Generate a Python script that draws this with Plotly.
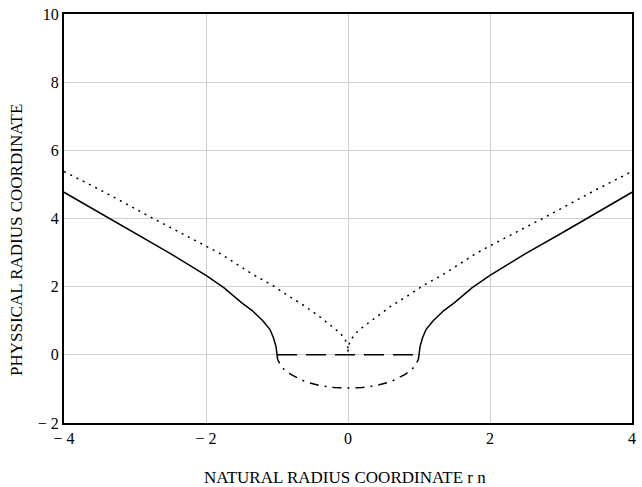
import plotly.graph_objects as go

# ---- data ----
solid_left_r = [-4.0, -3.5, -3.0, -2.5, -2.0, -1.75, -1.5, -1.35, -1.2, -1.1, -1.05, -1.015, -1.005, -1.0]
solid_left_y = [4.77, 4.17, 3.56, 2.97, 2.33, 1.97, 1.53, 1.30, 1.00, 0.75, 0.50, 0.25, 0.10, 0.0]
solid_right_r = [1.0, 1.005, 1.015, 1.05, 1.1, 1.2, 1.35, 1.5, 1.75, 2.0, 2.5, 3.0, 3.5, 4.0]
solid_right_y = [0.0, 0.10, 0.25, 0.50, 0.75, 1.00, 1.30, 1.53, 1.97, 2.33, 2.97, 3.56, 4.17, 4.77]

dot_left_r = [-4.0, -3.5, -2.76, -2.0, -1.8, -1.34, -1.05, -0.87, -0.6, -0.4, -0.2, -0.1, -0.03, 0.0]
dot_left_y = [5.38, 4.85, 4.02, 3.20, 2.97, 2.36, 2.02, 1.77, 1.42, 1.12, 0.80, 0.62, 0.40, 0.20]
dot_right_r = [0.0, 0.0, 0.03, 0.1, 0.2, 0.4, 0.6, 0.87, 1.05, 1.34, 1.8, 2.0, 2.76, 3.5, 4.0]
dot_right_y = [0.10, 0.20, 0.40, 0.62, 0.80, 1.12, 1.42, 1.77, 2.02, 2.36, 2.97, 3.20, 4.02, 4.85, 5.38]

dashdot_r = [-1.0, -0.99, -0.95, -0.9, -0.8, -0.6, -0.4, -0.2, 0.0, 0.2, 0.4, 0.6, 0.8, 0.9, 0.95, 0.99, 1.0]
dashdot_y = [0.0, -0.14, -0.30, -0.43, -0.58, -0.79, -0.90, -0.96, -0.97, -0.96, -0.90, -0.79, -0.58, -0.43, -0.30, -0.14, 0.0]

dash_r = [-1.0, 1.0]
dash_y = [0.0, 0.0]

x_tickvals = [-4, -2, 0, 2, 4]
x_ticktext = ["\u2212 4", "\u2212 2", "0", "2", "4"]
y_tickvals = [-2, 0, 2, 4, 6, 8, 10]
y_ticktext = ["\u2212 2", "0", "2", "4", "6", "8", "10"]

x_title = "NATURAL RADIUS COORDINATE r n"
y_title = "PHYSSICAL RADIUS COORDINATE"

FONT = "Liberation Serif"

fig = go.Figure()
line_solid = dict(color="black", width=1.5)
fig.add_trace(go.Scatter(x=solid_left_r, y=solid_left_y, mode="lines", line=line_solid))
fig.add_trace(go.Scatter(x=solid_right_r, y=solid_right_y, mode="lines", line=line_solid))
line_dot = dict(color="black", width=1.5, dash="2px,5px")
fig.add_trace(go.Scatter(x=dot_left_r, y=dot_left_y, mode="lines", line=line_dot))
fig.add_trace(go.Scatter(x=dot_right_r, y=dot_right_y, mode="lines", line=line_dot))
fig.add_trace(go.Scatter(x=dashdot_r, y=dashdot_y, mode="lines",
                         line=dict(color="black", width=1.5, dash="9px,6px,2px,6px")))
fig.add_trace(go.Scatter(x=dash_r, y=dash_y, mode="lines",
                         line=dict(color="black", width=1.5, dash="20px,9px")))

W, H = 642, 487
ml, mr, mt, mb = 64, 6, 8, 64
pw, ph = W - ml - mr, H - mt - mb

fig.update_layout(
    width=W, height=H,
    margin=dict(l=ml, r=mr, t=mt, b=mb, pad=0),
    paper_bgcolor="white", plot_bgcolor="white",
    showlegend=False,
    font=dict(family=FONT, size=16, color="black"),
    xaxis=dict(range=[-4, 4], tickvals=x_tickvals, ticktext=x_ticktext,
               showgrid=True, gridcolor="#cfcfcf", gridwidth=1,
               zeroline=False, showline=True, linecolor="black", linewidth=2,
               mirror=True, ticks="", ticklabeloverflow="allow",
               tickfont=dict(family=FONT, size=16)),
    yaxis=dict(range=[-2, 10], tickvals=y_tickvals, ticktext=y_ticktext,
               showgrid=True, gridcolor="#cfcfcf", gridwidth=1,
               zeroline=False, showline=True, linecolor="black", linewidth=2,
               mirror=True, ticks="", ticklabeloverflow="allow",
               tickfont=dict(family=FONT, size=16)),
    annotations=[
        dict(text=x_title, xref="paper", yref="paper",
             x=(347 - ml) / pw, y=-(478 - (H - mb)) / ph,
             xanchor="center", yanchor="middle", showarrow=False,
             font=dict(family=FONT, size=17)),
        dict(text=y_title, xref="paper", yref="paper",
             x=(16 - ml) / pw, y=1 - (237 - mt) / ph, textangle=-90,
             xanchor="center", yanchor="middle", showarrow=False,
             font=dict(family=FONT, size=17)),
    ],
)

fig.write_html("out.html", config={"displayModeBar": False},
               post_script="document.body.style.margin='0';")
